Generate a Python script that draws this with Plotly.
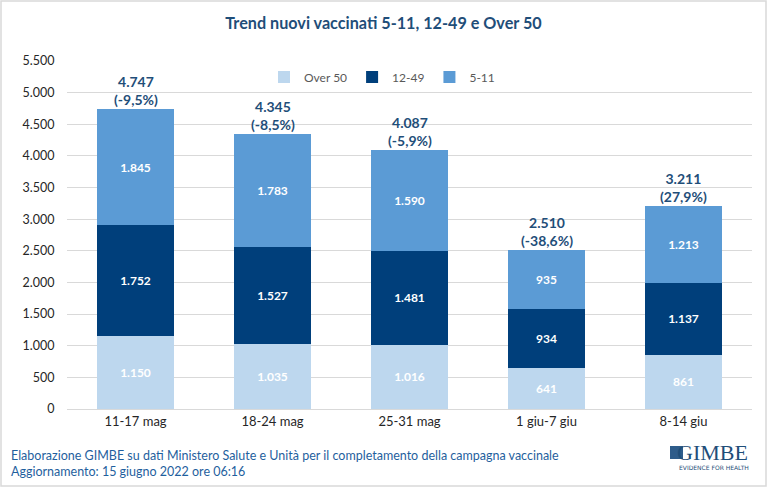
import plotly.graph_objects as go

categories = ["11-17 mag", "18-24 mag", "25-31 mag", "1 giu-7 giu", "8-14 giu"]
over50 = [1150, 1035, 1016, 641, 861]
age12_49 = [1752, 1527, 1481, 934, 1137]
age5_11 = [1845, 1783, 1590, 935, 1213]
pct_change = ["-9,5%", "-8,5%", "-5,9%", "-38,6%", "27,9%"]
y_ticks = [0, 500, 1000, 1500, 2000, 2500, 3000, 3500, 4000, 4500, 5000, 5500]

FONT = "Lato"
L, R, T, B = 67, 752, 61, 409
PW, PH = R - L, B - T


def px(x):
    return (x - L) / PW


def py(y):
    return (B - y) / PH


fig = go.Figure()
series = [("Over 50", over50, "#BDD7EE"), ("12-49", age12_49, "#003F7B"), ("5-11", age5_11, "#5B9BD5")]
for name, vals, col in series:
    fig.add_trace(go.Bar(
        x=categories, y=vals, name=name, marker=dict(color=col, line=dict(width=0)),
        texttemplate="<b>%{y:,}</b>", textposition="inside", insidetextanchor="middle",
        textfont=dict(color="white", size=12, family=FONT), hoverinfo="skip"))

totals = [a + b + c for a, b, c in zip(over50, age12_49, age5_11)]
for cat, tot, pc in zip(categories, totals, pct_change):
    fig.add_annotation(x=cat, y=tot, text=f"<b>{tot:,}</b>".replace(",", ".") + f"<br><b>({pc})</b>",
                       showarrow=False, yanchor="bottom", yshift=-1,
                       font=dict(size=14, color="#1F4E79", family=FONT))

fig.update_layout(
    width=767, height=487, barmode="stack", bargap=0.445,
    separators=",.",
    paper_bgcolor="white", plot_bgcolor="white",
    margin=dict(l=L, r=767 - R, t=T, b=487 - B, autoexpand=False),
    title=dict(text="<b>Trend nuovi vaccinati 5-11, 12-49 e Over 50</b>", x=0.5, xanchor="center",
               y=1 - 23 / 487, yanchor="middle", font=dict(size=16.2, color="#1F4E79", family=FONT)),
    legend=dict(orientation="h", x=px(382), xanchor="center", y=py(77), yanchor="middle",
                font=dict(size=12, color="#595959", family=FONT), traceorder="normal",
                itemwidth=30, tracegroupgap=0),
    font=dict(family=FONT),
    xaxis=dict(showline=True, linecolor="#D9D9D9", linewidth=1, tickfont=dict(size=13, color="#262626"),
               ticks="", fixedrange=True),
    yaxis=dict(range=[0, 5500], tickvals=y_ticks, tickformat=",", gridcolor="#D9D9D9", gridwidth=1,
               zeroline=False, tickfont=dict(size=12.5, color="#262626"), ticks="outside", ticklen=9,
               tickcolor="white"),
    showlegend=True,
)

fig.add_annotation(xref="paper", yref="paper", x=px(9), y=py(455), xanchor="left", yanchor="middle",
                   text="Elaborazione GIMBE su dati Ministero Salute e Unità per il completamento della campagna vaccinale",
                   showarrow=False, font=dict(size=12.5, color="#1F5F9E", family=FONT))
fig.add_annotation(xref="paper", yref="paper", x=px(9), y=py(471), xanchor="left", yanchor="middle",
                   text="Aggiornamento: 15 giugno 2022 ore 06:16",
                   showarrow=False, font=dict(size=12.5, color="#1F5F9E", family=FONT))
# logo
fig.add_annotation(xref="paper", yref="paper", x=px(750), y=py(452), xanchor="right", yanchor="middle",
                   text="GIMBE", showarrow=False, font=dict(size=22, color="#1F4E79", family="Liberation Serif"))
fig.add_annotation(xref="paper", yref="paper", x=px(751), y=py(467), xanchor="right", yanchor="middle",
                   text="EVIDENCE FOR HEALTH", showarrow=False, font=dict(size=6, color="#1F4E79", family="DejaVu Sans"))
fig.add_shape(type="rect", xref="paper", yref="paper", x0=px(670), x1=px(683),
              y0=py(459), y1=py(446), fillcolor="#2E5C8A", line=dict(width=0))
# outer border
fig.add_shape(type="rect", xref="paper", yref="paper", x0=px(1), x1=px(766),
              y0=py(486), y1=py(1), line=dict(color="#D9D9D9", width=1.5), fillcolor="rgba(0,0,0,0)")

fig.write_html("out.html")
